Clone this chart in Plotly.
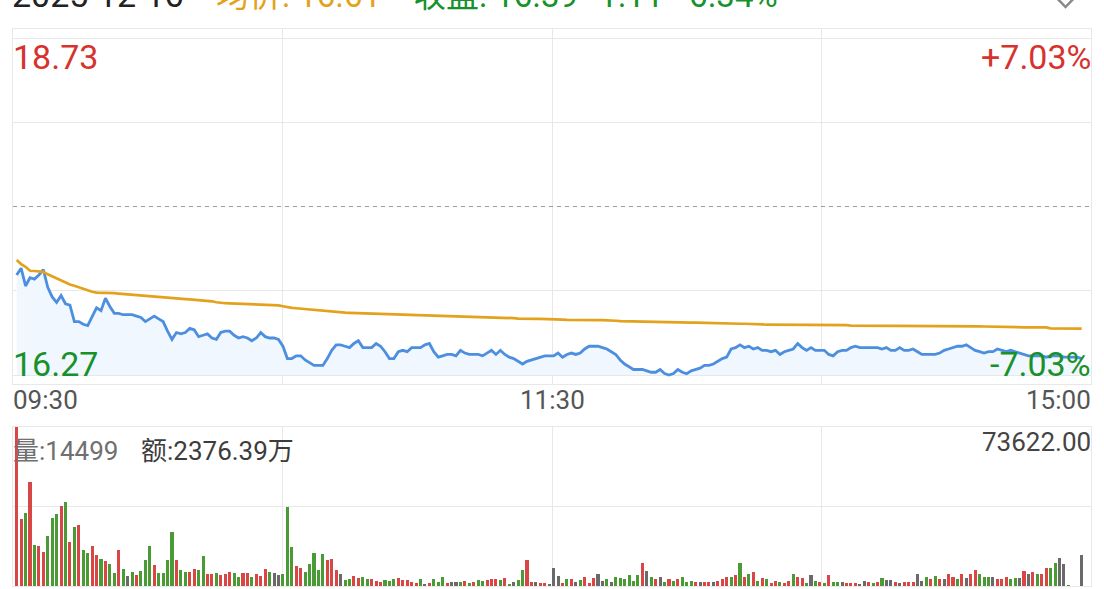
import plotly.graph_objects as go
from plotly.subplots import make_subplots

# ---------------- data ----------------
prev_close = 17.50
price_top = 18.73
price_bottom = 16.27
vol_max = 73622.00

price = [
17.00,17.05,16.92,16.98,16.97,17.00,17.04,16.91,16.84,16.80,
16.85,16.79,16.78,16.66,16.66,16.64,16.63,16.70,16.76,16.74,
16.83,16.77,16.72,16.72,16.71,16.71,16.71,16.70,16.69,16.66,
16.68,16.70,16.68,16.66,16.59,16.53,16.58,16.57,16.58,16.61,
16.60,16.55,16.56,16.57,16.54,16.53,16.58,16.59,16.59,16.56,
16.54,16.55,16.54,16.52,16.54,16.58,16.55,16.54,16.54,16.53,
16.48,16.39,16.39,16.41,16.41,16.38,16.36,16.34,16.34,16.34,
16.39,16.45,16.49,16.49,16.48,16.47,16.50,16.52,16.47,16.47,
16.47,16.50,16.48,16.44,16.39,16.39,16.44,16.45,16.44,16.47,
16.47,16.47,16.49,16.50,16.44,16.40,16.41,16.42,16.42,16.41,
16.45,16.43,16.42,16.42,16.42,16.41,16.43,16.45,16.42,16.45,
16.42,16.40,16.39,16.37,16.35,16.37,16.38,16.39,16.40,16.41,
16.41,16.41,16.43,16.40,16.42,16.43,16.42,16.43,16.46,16.48,
16.48,16.48,16.47,16.46,16.44,16.42,16.38,16.35,16.33,16.31,
16.31,16.31,16.30,16.29,16.29,16.31,16.28,16.27,16.28,16.31,
16.29,16.28,16.30,16.31,16.32,16.34,16.34,16.35,16.37,16.39,
16.40,16.46,16.47,16.49,16.47,16.48,16.46,16.47,16.45,16.45,
16.44,16.45,16.42,16.44,16.45,16.46,16.50,16.47,16.45,16.47,
16.45,16.45,16.45,16.42,16.41,16.44,16.45,16.45,16.47,16.48,
16.47,16.47,16.47,16.47,16.47,16.46,16.47,16.45,16.45,16.47,
16.45,16.45,16.46,16.44,16.42,16.42,16.42,16.42,16.43,16.45,
16.46,16.47,16.48,16.48,16.49,16.47,16.45,16.44,16.43,16.44,
16.44,16.46,16.45,16.44,16.45,16.44,16.43,16.42,16.41,16.41,
16.41,16.41,16.40,16.41,16.41,16.41,16.40,16.40,16.40,16.40,
16.39]

avg_price = [
17.109,17.080,17.060,17.031,17.029,17.027,17.023,17.005,16.990,16.975,
16.955,16.941,16.930,16.921,16.910,16.897,16.884,16.878,16.871,16.871,
16.870,16.869,16.867,16.864,16.861,16.858,16.855,16.852,16.850,16.848,
16.845,16.843,16.840,16.838,16.835,16.832,16.829,16.826,16.824,16.822,
16.820,16.818,16.816,16.813,16.808,16.801,16.796,16.794,16.793,16.792,
16.790,16.788,16.787,16.786,16.785,16.784,16.783,16.782,16.780,16.778,
16.772,16.765,16.760,16.757,16.754,16.750,16.746,16.743,16.740,16.737,
16.733,16.729,16.727,16.726,16.725,16.724,16.723,16.722,16.721,16.720,
16.719,16.718,16.717,16.716,16.714,16.712,16.711,16.710,16.709,16.708,
16.707,16.706,16.705,16.704,16.703,16.702,16.701,16.700,16.700,16.699,
16.698,16.697,16.697,16.696,16.696,16.696,16.695,16.695,16.694,16.692,
16.689,16.687,16.685,16.682,16.680,16.679,16.679,16.679,16.679,16.679,
16.678,16.678,16.676,16.674,16.672,16.671,16.671,16.671,16.671,16.671,
16.671,16.670,16.670,16.670,16.668,16.666,16.664,16.663,16.662,16.661,
16.660,16.659,16.658,16.657,16.656,16.655,16.653,16.652,16.652,16.652,
16.652,16.652,16.652,16.652,16.651,16.651,16.648,16.645,16.644,16.644,
16.644,16.644,16.644,16.644,16.644,16.644,16.644,16.644,16.640,16.637,
16.637,16.637,16.637,16.637,16.637,16.637,16.637,16.637,16.637,16.637,
16.637,16.637,16.637,16.637,16.637,16.637,16.637,16.634,16.630,16.630,
16.630,16.630,16.630,16.630,16.630,16.630,16.630,16.630,16.629,16.629,
16.629,16.629,16.629,16.629,16.629,16.629,16.629,16.629,16.629,16.628,
16.628,16.628,16.627,16.627,16.626,16.626,16.625,16.625,16.624,16.623,
16.623,16.622,16.618,16.618,16.618,16.618,16.618,16.618,16.618,16.618,
16.618,16.618,16.618,16.611,16.611,16.610,16.610,16.609,16.609,16.608,
16.608]

volume = [
73622,31000,33660,48000,18800,18500,15700,23000,31300,33300,
37000,38800,20400,27200,28400,16500,15300,18500,14400,12500,
11400,10300,6200,16700,7900,4600,6600,4900,7100,12000,
18400,9700,6200,6200,12000,24900,12000,7300,6600,6400,
7700,7400,13700,5600,5400,5900,5200,5400,6600,5800,
4300,5800,5900,4000,5600,4600,7900,6500,5800,4900,
5600,36700,17900,9400,8200,6400,10000,15100,7400,14800,
11900,12500,7400,5600,2800,3100,4600,3500,4300,3300,
3100,2500,1900,2800,2500,3400,3700,2900,2900,1700,
1500,3400,1100,1200,3200,1700,4000,1200,1700,1700,
1700,2500,1500,1900,2800,2500,2600,3400,3400,2900,
3500,1100,1900,2600,7400,11900,1700,1900,1200,1200,
500,8200,4600,1500,3200,3200,2000,2800,4200,1500,
3500,5400,2500,3100,1900,4000,3900,3100,4900,2300,
4900,10800,6900,4000,3100,4300,2000,3100,2300,3100,
4000,1900,2200,2000,1700,1700,2000,1700,2500,3100,
4300,4300,5100,10500,4000,5600,6300,2500,3900,3100,
1200,2200,1900,1500,2500,5600,4300,3900,1200,4900,
2200,1700,1200,5100,1900,1700,1700,1500,1200,1200,
1100,2300,2000,1500,2000,3500,2900,2600,1900,1500,
1900,1700,1900,5600,2200,4300,3400,4600,3400,3400,
5600,4200,3400,5600,3900,5600,7300,5600,4300,4300,
4000,3200,3200,4300,3200,3900,3500,7100,5600,6600,
5600,5600,8200,8200,10800,12800,10100,460,0,0,
14499]

# bar direction: r = up (red), g = down (green), n = flat (grey)
direction = list(
"rrgrgrrggg"
"rgrgrggrrg"
"rggrgngrgg"
"grgggg" "rggr"
"rggrrgrrrg"
"grrgrrrgnn"
"gggrrggggg"
"rrrnggrrgg"
"rrrgggrrrr"
"rgnrgggrnn"
"grgrggrrrg"
"rgnggrrnrr"
"nnnrgrngrr"
"rnngngggggg"
"rngrngrgrg"
"ggrnrrnrrr"
"grgrgrgrgrr"
"grrgrrgngrg"
"rggnrrrnnrgrgnnrnrrrnngrgrnrrgrnrrgggnrrrggnrnrgrrggnngnnnnnn"
)

header_date = "2025-12-16"
header_avg = "均价: 16.61"
header_close = "收盘: 16.39"
header_change = "-1.11"
header_pct = "-6.34%"
vol_label = "量:14499"
amt_label = "额:2376.39万"
time_labels = ["09:30", "11:30", "15:00"]

# ---------------- style ----------------
RED = "#d7322e"
GREEN = "#17922a"
BAR_RED = "#d94646"
BAR_GREEN = "#4a9b36"
BAR_GREY = "#6a6a6a"
BLUE = "#4d8fdf"
ORANGE = "#e3a21c"
GRID = "#e8e8e8"
FONT = "Roboto, 'Noto Sans CJK SC', sans-serif"

W, H = 1104, 589
PLOT_L, PLOT_R, PLOT_T, PLOT_B = 13, 1091, 29, 586   # page pixels
ML, MT = PLOT_L, PLOT_T
MR, MB = W - PLOT_R, H - PLOT_B
PW, PH = W - ML - MR, H - MT - MB


def px_x(px):
    return (px - PLOT_L) / PW


def px_y(py):
    return (PLOT_B - py) / PH


n = len(price)
idx = list(range(n))
direction = direction[:n] + ["n"] * max(0, n - len(direction))
cmap = {"r": BAR_RED, "g": BAR_GREEN, "n": BAR_GREY}
bar_colors = [cmap[d] for d in direction]

x_lo, x_hi = -0.83, 242.1
pad = (price_top - price_bottom) / 337 * 9

fig = make_subplots(rows=2, cols=1, shared_xaxes=False)

# baseline for the light fill
fig.add_trace(go.Scatter(x=idx, y=[price_bottom] * n, mode="lines",
                         line=dict(width=0, color="rgba(0,0,0,0)"),
                         hoverinfo="skip", showlegend=False), row=1, col=1)
fig.add_trace(go.Scatter(x=idx, y=price, mode="lines", fill="tonexty",
                         fillcolor="#f1f7fe",
                         line=dict(color=BLUE, width=2.8),
                         showlegend=False), row=1, col=1)
fig.add_trace(go.Scatter(x=idx, y=avg_price, mode="lines",
                         line=dict(color=ORANGE, width=2.7),
                         showlegend=False), row=1, col=1)
fig.add_trace(go.Bar(x=idx, y=volume, marker=dict(color=bar_colors, line=dict(width=0)),
                     width=0.68, showlegend=False), row=2, col=1)

vgrid = [x_lo + k * (x_hi - x_lo) / 4 for k in (1, 2, 3)]
axis_common = dict(showline=True, mirror=True, linecolor=GRID, linewidth=1,
                   zeroline=False, showticklabels=False, ticks="",
                   gridcolor=GRID, gridwidth=1)

fig.update_layout(
    width=W, height=H,
    margin=dict(l=ML, r=MR, t=MT, b=MB),
    paper_bgcolor="white", plot_bgcolor="white",
    showlegend=False, bargap=0,
    font=dict(family=FONT),
    xaxis=dict(domain=[0, 1], range=[x_lo, x_hi], tickvals=vgrid, showgrid=True, **axis_common),
    yaxis=dict(domain=[px_y(384), 1], range=[price_bottom - pad, price_top + pad],
               tickvals=[price_bottom, (price_bottom + prev_close) / 2,
                         (price_top + prev_close) / 2, price_top],
               showgrid=True, **axis_common),
    xaxis2=dict(domain=[0, 1], range=[x_lo, x_hi], tickvals=vgrid, showgrid=True, **axis_common),
    yaxis2=dict(domain=[0, px_y(427)], range=[0, vol_max],
                tickvals=[vol_max / 2], showgrid=True, **axis_common),
)

fig.add_shape(type="line", xref="x", yref="y", x0=x_lo, x1=x_hi, y0=prev_close, y1=prev_close,
              line=dict(color="#9a9a9a", width=1, dash="4px,4px"))

pct = (price_top - prev_close) / prev_close * 100


def ann(text, px, py, color, size, xanchor="left"):
    fig.add_annotation(text=text, x=px_x(px), y=px_y(py), xref="paper", yref="paper",
                       xanchor=xanchor, yanchor="middle", showarrow=False,
                       font=dict(color=color, size=size, family=FONT))


ann(f"{price_top:.2f}", 11, 57, RED, 34)
ann(f"+{pct:.2f}%", 1093, 57, RED, 34, "right")
ann(f"{price_bottom:.2f}", 11, 364, GREEN, 34)
ann(f"-{pct:.2f}%", 1093, 364, GREEN, 34, "right")

ann(time_labels[0], 11, 400, "#555555", 26)
ann(time_labels[1], 552, 400, "#555555", 26, "center")
ann(time_labels[2], 1093, 400, "#555555", 26, "right")

ann(vol_label, 11, 451, "#707070", 26)
ann(amt_label, 139, 451, "#3c3c3c", 26)
ann(f"{vol_max:.2f}", 1093, 442, "#444444", 26, "right")

# header (cut off at the top edge of the page)
HY = -5
ann(header_date, 10, HY, "#222222", 34)
ann(header_avg, 214, HY, ORANGE, 33)
ann(header_close, 411, HY, GREEN, 33)
ann(header_change, 588, HY, GREEN, 33)
ann(header_pct, 678, HY, GREEN, 33)

# collapse chevron in the top-right corner (only its lower tip is on the page)
cx0, cx1, cy0, cy1 = px_x(1051), px_x(1080), px_y(-8), px_y(7)
fig.add_shape(type="path", xref="paper", yref="paper",
              path=f"M {cx0},{cy0} L {(cx0 + cx1) / 2},{cy1} L {cx1},{cy0}",
              line=dict(color="#8a8a8a", width=2.5))

fig.write_html("out.html", config={"displayModeBar": False},
               post_script="document.body.style.margin='0px';")
